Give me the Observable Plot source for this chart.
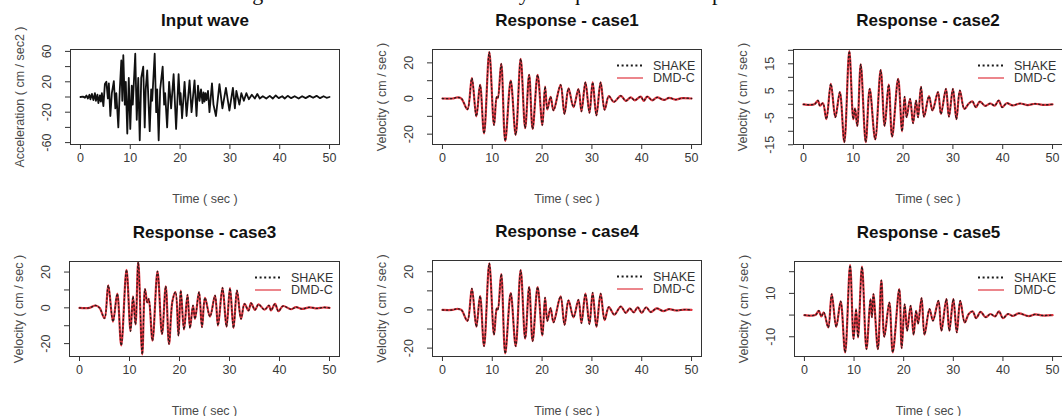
<!DOCTYPE html>
<html>
<head>
<meta charset="utf-8">
<script src="https://cdn.jsdelivr.net/npm/d3@7"></script>
<script src="https://cdn.jsdelivr.net/npm/@observablehq/plot@0.6"></script>
<style>
  html, body { margin: 0; padding: 0; background: #fff; }
  #wrap { position: relative; width: 1062px; height: 416px; overflow: hidden; background: #fff; }
  .panel { position: absolute; width: 354px; height: 208px; }
  .caption { position: absolute; top: -18px; left: 234px; white-space: nowrap;
             font-family: "Liberation Serif", "Times New Roman", serif; font-size: 22px; line-height: 22px; color: #111; }
  .legend { position: absolute; font-family: "Liberation Sans", Arial, sans-serif; font-size: 12.5px; color: #333; }
</style>
</head>
<body>
<div id="wrap">
  <div class="caption">Figure 8. Verification of accuracy of equivalent linear parameters</div>
</div>
<script>
// ---------- data (time in sec, value) ----------
const xTickValues = [0, 10, 20, 30, 40, 50];
const seriesNames = ["SHAKE", "DMD-C"];
const panelTitles = ["Input wave", "Response - case1", "Response - case2", "Response - case3", "Response - case4", "Response - case5"];
const yAxisTitles = ["Acceleration ( cm / sec2 )", "Velocity ( cm / sec )", "Velocity ( cm / sec )", "Velocity ( cm / sec )", "Velocity ( cm / sec )", "Velocity ( cm / sec )"];
const xAxisTitle = "Time ( sec )";

const inputWave = [[0,0],[0.5,0.5],[0.9,-1],[1.2,2],[1.5,-2],[1.8,3],[2.0,-3],[2.3,4],[2.6,-4],[2.9,5],[3.1,-5],[3.4,3],[3.6,-8],[3.9,2],[4.1,-6],[4.3,5],[4.6,-12],[4.9,17],[5.2,20],[5.5,-2],[5.7,18],[6.0,-25],[6.3,5],[6.7,21],[7.0,-15],[7.2,5],[7.6,-40],[7.9,10],[8.2,48],[8.4,-5],[8.6,55],[8.9,-10],[9.1,20],[9.4,-48],[9.7,25],[10.0,-42],[10.3,15],[10.5,-10],[11.0,57],[11.3,-30],[11.6,25],[11.9,-57],[12.2,25],[12.6,40],[12.9,-40],[13.1,10],[13.4,35],[13.9,-45],[14.2,10],[14.4,-5],[14.9,57],[15.2,-20],[15.4,10],[15.7,-57],[16.0,10],[16.5,40],[16.8,-10],[17.0,5],[17.4,-40],[17.8,20],[18.2,-15],[18.7,30],[19.2,-42],[19.7,30],[20.0,-10],[20.1,5],[20.4,-28],[20.9,20],[21.3,-25],[21.9,22],[22.3,-20],[22.9,22],[23.3,-25],[23.6,15],[23.9,-5],[24.2,10],[24.5,-8],[24.7,6],[24.9,-6],[25.1,5],[25.3,-4],[25.6,8],[25.9,-20],[26.4,18],[26.7,-10],[27.2,-25],[27.9,17],[28.5,-15],[29.2,12],[29.9,-18],[30.6,12],[31.0,-15],[31.3,8],[31.9,-10],[32.3,5],[32.8,-5],[33.3,5],[33.8,-3],[34.4,3],[35.0,-2],[35.5,4],[36,-2],[36.6,1],[37.3,-2],[38,1.5],[38.6,-2],[39.2,2],[39.8,-1.5],[40.5,1],[41,-2],[41.6,1.5],[42.3,-1.5],[43,1],[43.8,-2],[44.5,1],[45.2,-1.5],[46,1.5],[46.7,-1],[47.4,1.5],[48.1,-1.5],[48.8,1],[49.4,-1],[50,0]];

const case1 = [[0,0],[2,0],[3,0.6],[3.8,0],[5.0,-6.1],[5.9,11.4],[6.8,-10],[7.55,7.6],[8.35,-19.6],[9.4,26],[10.35,-14.9],[10.9,0.8],[11.1,0.2],[11.8,19.4],[12.6,-23.8],[13.7,10],[14.7,-20.4],[15.7,22.3],[16.6,-16.6],[17.4,13.3],[18.1,-17.1],[19.1,13.3],[20.05,-14.9],[20.6,6.7],[21.05,-6.1],[21.7,1],[22.3,-6.7],[23.7,7.6],[24.5,-8.6],[25.3,5.7],[26.3,-4.8],[27.3,5.3],[27.9,-7.2],[28.7,9],[29.5,-8],[30.15,9],[30.9,-9.5],[31.75,9],[32.55,-6.3],[33.4,1.3],[34.4,-1.9],[35.8,1.5],[36.8,-1.3],[37.8,0.6],[38.6,-1],[39.8,1.1],[40.4,-1.3],[41.1,1.1],[42.1,-1],[43.1,0.6],[44.5,-0.8],[45.5,0.4],[46.8,-0.6],[48.1,0.2],[50,0]];

const case2 = [[0,0],[2.2,0],[2.9,1.4],[3.3,-0.5],[3.9,0.4],[4.6,-5.5],[5.5,7.6],[6.4,-4.8],[7.3,4.5],[8.2,-14],[9.2,19.7],[10.0,-5.5],[10.35,-1.5],[10.8,-8],[11.5,14.8],[12.5,-14],[13.3,5.7],[14.4,-13],[15.5,12.7],[16.3,-8],[17.1,7.3],[17.8,-12],[19.0,9.4],[19.8,-10],[20.3,2.8],[20.7,-4.8],[21.4,2],[22.0,-7],[22.6,1.4],[23.0,-4.8],[23.6,6.5],[24.2,-4.6],[25.2,3],[25.9,-2.3],[27.0,4.5],[27.6,-3.6],[28.6,5.7],[29.2,-4.6],[30.0,5.7],[30.7,-5.5],[31.4,5.1],[32.3,-1.7],[33.2,0.3],[33.9,1.1],[34.6,-1.1],[35.4,1],[36.5,-0.6],[37.5,0.3],[38.4,-0.5],[39.2,1.4],[39.9,-1.1],[40.8,0.4],[42,-0.4],[43.5,0.3],[45,-0.3],[46.5,0.2],[48,-0.2],[50,0]];

const case3 = [[0,0],[2,0],[3.2,1.3],[4,0],[5.0,-5.8],[5.75,12.5],[6.7,-7.7],[7.55,7.9],[8.35,-21],[9.4,21.3],[10.2,-13],[10.7,6.4],[11.2,-9.3],[11.75,25.6],[12.55,-26],[13.1,10.5],[13.55,3],[13.85,5],[14.6,-18.3],[15.6,20.4],[16.5,-14.6],[17.25,12],[17.9,-20.2],[18.6,4],[19.2,8.8],[19.8,-15.5],[20.25,9.7],[20.9,-12.1],[21.6,7.3],[22.1,-11.2],[22.7,1.3],[23.1,-6.2],[23.9,8.8],[24.5,-10.8],[25.1,5.6],[26.1,-4.9],[27.1,6.9],[27.7,-9.9],[28.6,11.2],[29.4,-10.5],[30.1,11],[30.8,-11.2],[31.5,9.7],[32.3,-6.2],[33.0,2.2],[33.8,-1.5],[34.3,2.6],[35.1,-1.1],[35.8,1.9],[37.0,-1],[37.9,1.3],[38.3,-1.5],[39.1,2.2],[39.8,-1.9],[40.7,1.0],[42.3,-0.8],[43.3,0.4],[44.5,-0.6],[46,0.3],[47.5,-0.3],[48.8,0.2],[50,0]];

const case4 = [[0,0],[2,0],[3,0.6],[3.8,0],[5.0,-5.7],[5.9,11.2],[6.8,-8.8],[7.55,7.3],[8.35,-19],[9.4,24.4],[10.35,-13],[10.9,0.8],[11.1,0.2],[11.8,18.8],[12.6,-22.8],[13.7,8.8],[14.7,-19],[15.7,20.9],[16.6,-15],[17.4,12],[18.1,-16.3],[19.1,12],[20.05,-13.3],[20.6,6.4],[21.05,-5.7],[21.7,1],[22.3,-6.5],[23.7,7.1],[24.5,-7.8],[25.3,5],[26.3,-3.9],[27.3,5.3],[27.9,-6.9],[28.7,8.5],[29.5,-7.4],[30.15,9],[30.9,-8.8],[31.75,8.5],[32.55,-5.3],[33.4,1.5],[34.5,-2.5],[35.8,1.8],[36.8,-1.5],[37.6,0.8],[38.4,-1.3],[39.2,1.4],[40.0,-1.5],[40.9,1.4],[41.8,-1.1],[43.0,0.8],[44.3,-0.6],[45.5,0.4],[47,-0.3],[48.5,0.2],[50,0]];

const case5 = [[0,0],[2.2,0],[2.9,2],[3.4,-0.6],[3.9,1.2],[4.8,-5.7],[5.5,9.7],[6.4,-5.4],[7.3,6.3],[8.2,-17.2],[9.2,23],[9.9,-11],[10.4,2.8],[10.8,-10.3],[11.6,22.3],[12.5,-15.7],[13.3,7.4],[13.6,-1],[13.9,9.7],[14.8,-15.7],[15.5,16],[16.1,-10],[17.1,5.8],[17.8,-17.2],[19.1,12],[19.6,-15.2],[20.2,5],[20.7,-7.2],[21.4,4.3],[22.0,-9],[22.5,2],[22.9,-4],[23.6,7.8],[24.2,-9],[25.2,2.8],[25.9,-2.6],[27.0,6.6],[27.6,-7.2],[28.6,7.4],[29.2,-7.2],[30.0,7.4],[30.7,-8],[31.4,6.6],[32.3,-3.4],[33.1,0.5],[33.9,1.7],[34.6,-1.4],[35.5,1.5],[36.5,-1],[37.5,0.5],[38.4,-0.6],[39.2,1.7],[40.0,-1.4],[41.0,0.5],[42.0,-0.4],[43.2,0.8],[45.2,-0.5],[46.5,0.3],[48,-0.2],[50,0]];

const yTicksList = [[-60,-40,-20,0,20,40,60],[-20,-10,0,10,20],[-15,-10,-5,0,5,10,15,20],[-20,-10,0,10,20],[-20,-10,0,10,20],[-10,0,10,20]];
const yLabelsList = [[-60,-20,20,60],[-20,0,20],[-15,-5,5,15],[-20,0,20],[-20,0,20],[-10,10]];
const yDomains = [[-62.5,62.5],[-25.8,27.5],[-14.9,20.3],[-27.2,25.9],[-24.4,25.9],[-19.1,24.7]];

// ---------- layout ----------
const W = 354, H = 208;
const layout = [
  {left: 0,   top: 0,   ml: 70, mr: 15, mt: 49, mb: 64},
  {left: 354, top: 0,   ml: 78, mr: 7,  mt: 49, mb: 64},
  {left: 708, top: 0,   ml: 85, mr: 0,  mt: 49, mb: 64},
  {left: 0,   top: 208, ml: 69, mr: 15, mt: 53, mb: 60},
  {left: 354, top: 208, ml: 78, mr: 7,  mt: 52, mb: 60},
  {left: 708, top: 208, ml: 86, mr: 0,  mt: 53, mb: 60}
];
const dataList = [inputWave, case1, case2, case3, case4, case5];
const RED = "#e0343f";
const FONT = "'Liberation Sans', Arial, Helvetica, sans-serif";

const wrap = document.getElementById("wrap");

dataList.forEach((data, i) => {
  const L = layout[i];
  const isInput = i === 0;
  const lines = isInput
    ? [Plot.line(data, {x: d => d[0], y: d => d[1], stroke: "#111", strokeWidth: 1.8, curve: "linear"})]
    : [
        Plot.line(data, {x: d => d[0], y: d => d[1], stroke: RED, strokeWidth: 2.2, curve: "catmull-rom"}),
        Plot.line(data, {x: d => d[0], y: d => d[1], stroke: "#2a1a1a", strokeWidth: 1.3, strokeDasharray: "1.3,2.7", curve: "catmull-rom"})
      ];
  const chart = Plot.plot({
    width: W, height: H,
    marginLeft: L.ml, marginRight: L.mr, marginTop: L.mt, marginBottom: L.mb,
    style: {fontFamily: FONT, fontSize: "12px", color: "#3a3a3a", background: "transparent", overflow: "visible"},
    x: {domain: [-2, 52], label: null},
    y: {domain: yDomains[i], label: null},
    marks: [
      Plot.axisX({ticks: xTickValues, tickSize: 5, tickPadding: 4, label: null, fontSize: 12.5, stroke: "#333"}),
      Plot.axisY({ticks: yTicksList[i], tickSize: 5, tickFormat: () => "", label: null, stroke: "#333"}),
      Plot.text(yLabelsList[i], {y: d => d, frameAnchor: "left", dx: -24, rotate: -90, textAnchor: "middle", lineAnchor: "middle", text: d => String(d), fontSize: 12.5, fill: "#3a3a3a"}),
      ...lines,
      Plot.frame({stroke: "#333", strokeWidth: 1}),
      Plot.text([panelTitles[i]], {frameAnchor: "top", dy: -29, lineAnchor: "middle", textAnchor: "middle", fontSize: 17, fontWeight: "bold", fill: "#111", text: d => d}),
      Plot.text([xAxisTitle], {frameAnchor: "bottom", dy: 54, lineAnchor: "middle", textAnchor: "middle", fontSize: 12.5, fill: "#4a4a4a", text: d => d}),
      Plot.text([yAxisTitles[i]], {frameAnchor: "left", dx: -51, rotate: -90, textAnchor: "middle", lineAnchor: "middle", fontSize: 12.5, fill: "#4a4a4a", text: d => d})
    ]
  });
  const div = document.createElement("div");
  div.className = "panel";
  div.style.left = L.left + "px";
  div.style.top = L.top + "px";
  div.appendChild(chart);
  wrap.appendChild(div);

  if (!isInput) {
    const boxRight = L.left + W - L.mr;
    const boxTop = L.top + L.mt;
    const lg = document.createElement("div");
    lg.className = "legend";
    lg.style.left = (boxRight - 84) + "px";
    lg.style.top = (boxTop + 9) + "px";
    lg.innerHTML = `<svg width="90" height="30" style="overflow:visible;font-family:${FONT}">
      <line x1="0" x2="26" y1="7.5" y2="7.5" stroke="#1a1a1a" stroke-width="1.8" stroke-dasharray="2,2.6"/>
      <text x="36" y="7.5" dy="0.35em" font-size="12.5" fill="#333">${seriesNames[0]}</text>
      <line x1="0" x2="26" y1="20" y2="20" stroke="${RED}" stroke-width="1.2"/>
      <text x="36" y="20" dy="0.35em" font-size="12.5" fill="#333">${seriesNames[1]}</text>
    </svg>`;
    wrap.appendChild(lg);
  }
});
</script>
</body>
</html>
